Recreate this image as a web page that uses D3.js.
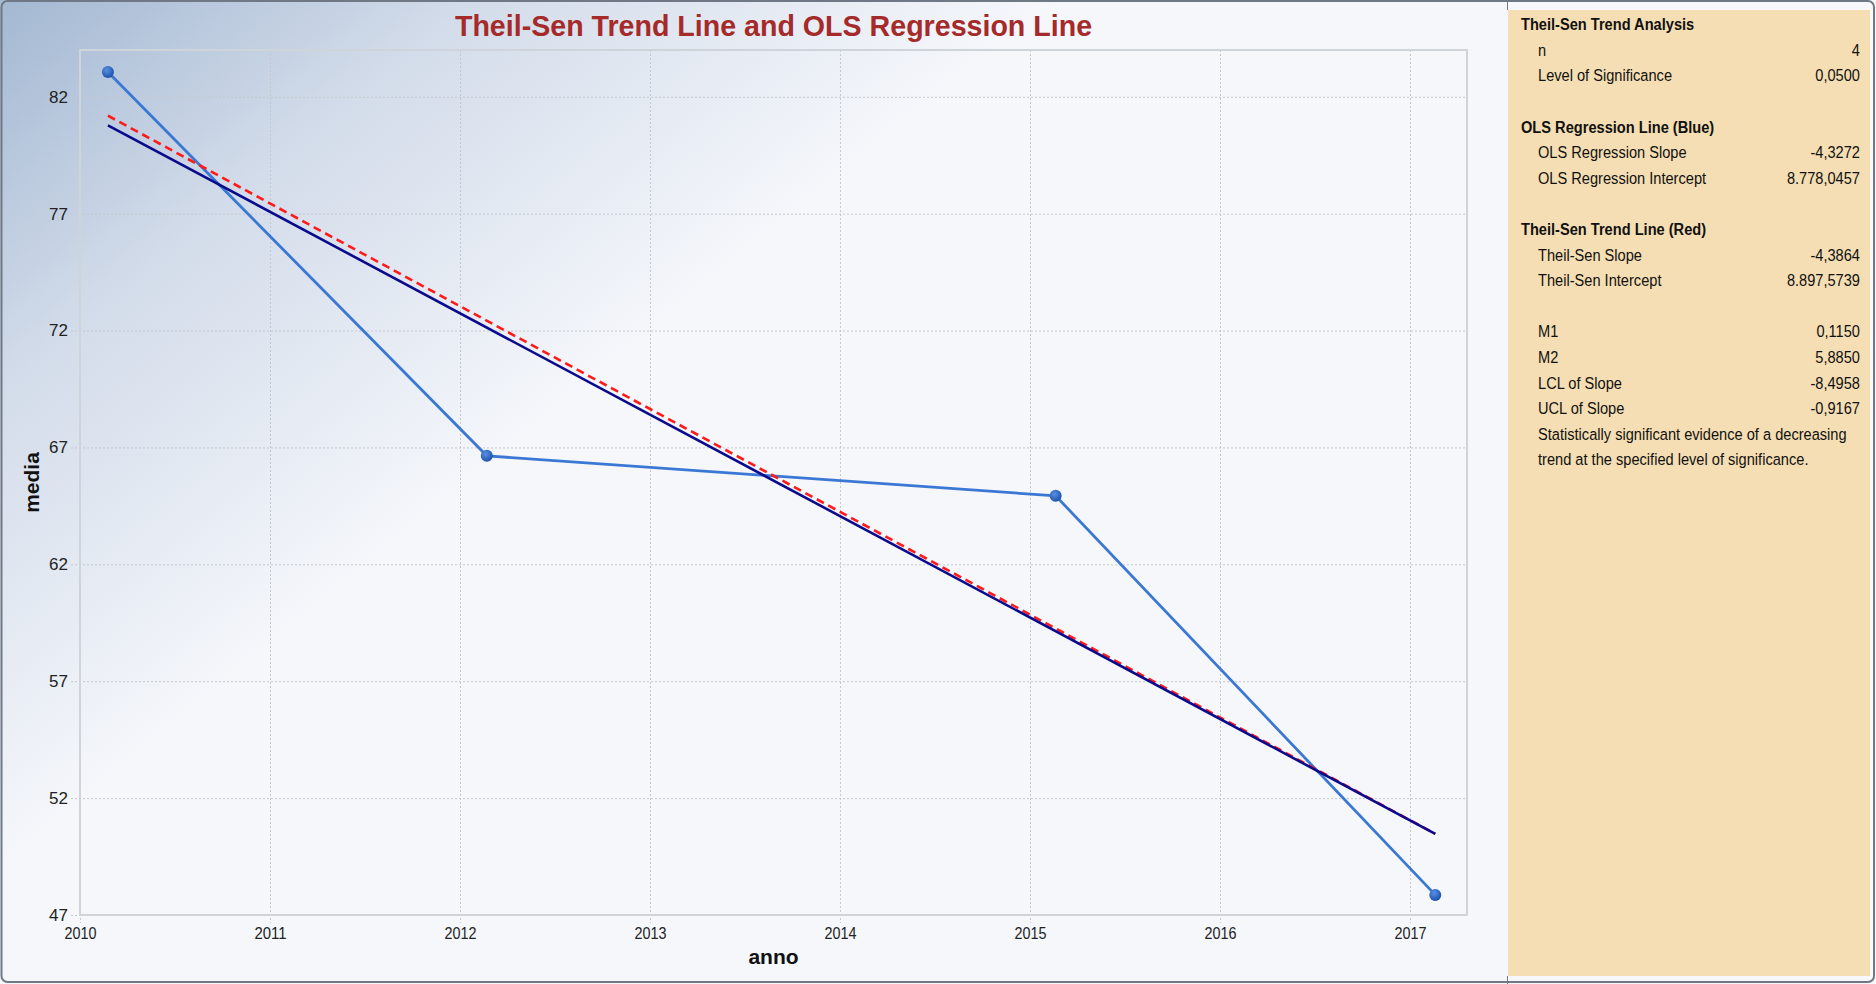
<!DOCTYPE html>
<html>
<head>
<meta charset="utf-8">
<script src="https://cdn.jsdelivr.net/npm/d3@7"></script>
<style>
  body { margin: 0; background: #f7f8fc; }
  svg { display: block; font-family: "Liberation Sans", Arial, sans-serif; }
</style>
</head>
<body>
<div id="chart"></div>
<script>
// data
const anno = [2010.147, 2012.141, 2015.135, 2017.133];
const media = [83.06, 66.64, 64.93, 47.86];
// trend lines, value at first and last anno
const olsEnds = [80.78, 50.47];
const theilEnds = [81.19, 50.47];

const xTicks = [2010, 2011, 2012, 2013, 2014, 2015, 2016, 2017];
const yTicks = [47, 52, 57, 62, 67, 72, 77, 82];

// side panel
const panelLabels = ["Theil-Sen Trend Analysis", "n", "Level of Significance", "",
  "OLS Regression Line (Blue)", "OLS Regression Slope", "OLS Regression Intercept", "",
  "Theil-Sen Trend Line (Red)", "Theil-Sen Slope", "Theil-Sen Intercept", "",
  "M1", "M2", "LCL of Slope", "UCL of Slope",
  "Statistically significant evidence of a decreasing",
  "trend at the specified level of significance."];
const panelValues = ["", "4", "0,0500", "",
  "", "-4,3272", "8.778,0457", "",
  "", "-4,3864", "8.897,5739", "",
  "0,1150", "5,8850", "-8,4958", "-0,9167", "", ""];
const panelHeaders = [0, 4, 8];

const width = 1876, height = 984;
const svg = d3.select("#chart").append("svg")
    .attr("width", width)
    .attr("height", height);

const defs = svg.append("defs");
const bg = defs.append("linearGradient")
    .attr("id", "bg")
    .attr("gradientUnits", "userSpaceOnUse")
    .attr("x1", 0).attr("y1", 0).attr("x2", 430).attr("y2", 520);
bg.append("stop").attr("offset", 0).attr("stop-color", "#a3b8d2");
bg.append("stop").attr("offset", 0.45).attr("stop-color", "#d3dcea");
bg.append("stop").attr("offset", 1).attr("stop-color", "#f5f7fb");

const dot = defs.append("radialGradient")
    .attr("id", "dot").attr("cx", 0.4).attr("cy", 0.35).attr("r", 0.65);
dot.append("stop").attr("offset", 0).attr("stop-color", "#5a90e2");
dot.append("stop").attr("offset", 1).attr("stop-color", "#1c52ad");

// backgrounds
svg.append("rect")
    .attr("x", 0).attr("y", 0).attr("width", 1507).attr("height", height)
    .attr("fill", "url(#bg)");
svg.append("rect")
    .attr("x", 1508).attr("y", 10).attr("width", 362).attr("height", 966)
    .attr("fill", "#f5deb3");
svg.append("rect")
    .attr("x", 1.5).attr("y", 1).attr("width", 1872.5).attr("height", 981)
    .attr("rx", 6)
    .attr("fill", "none")
    .attr("stroke", "#6f7884")
    .attr("stroke-width", 2);
svg.append("line")
    .attr("x1", 1507.5).attr("x2", 1507.5).attr("y1", 0).attr("y2", 10)
    .attr("stroke", "#6f7884");
svg.append("line")
    .attr("x1", 1507.5).attr("x2", 1507.5).attr("y1", 976).attr("y2", 984)
    .attr("stroke", "#6f7884");

const pLeft = 80, pRight = 1467, pTop = 50, pBottom = 915;

const x = d3.scaleLinear().domain([2010, 2017.3]).range([pLeft, pRight]);
const y = d3.scaleLinear().domain([47, 84]).range([pBottom, pTop]);

// grid
svg.append("g").selectAll("line")
    .data(yTicks)
    .join("line")
    .attr("x1", pLeft - 9).attr("x2", pRight)
    .attr("y1", d => y(d) + 0.5).attr("y2", d => y(d) + 0.5)
    .attr("stroke", "#c4c8ce")
    .attr("stroke-dasharray", "2,2");
svg.append("g").selectAll("line")
    .data(xTicks)
    .join("line")
    .attr("x1", d => x(d) + 0.5).attr("x2", d => x(d) + 0.5)
    .attr("y1", pTop).attr("y2", pBottom + 8)
    .attr("stroke", "#c4c8ce")
    .attr("stroke-dasharray", "2,2");

svg.append("rect")
    .attr("x", pLeft).attr("y", pTop)
    .attr("width", pRight - pLeft).attr("height", pBottom - pTop)
    .attr("fill", "none")
    .attr("stroke", "#cfd3da")
    .attr("stroke-width", 2);

// axes
const yAxis = svg.append("g")
    .attr("transform", `translate(${pLeft},0)`)
    .call(d3.axisLeft(y).tickValues(yTicks).tickSize(0).tickPadding(12).tickFormat(d3.format("d")));
const xAxis = svg.append("g")
    .attr("transform", `translate(0,${pBottom})`)
    .call(d3.axisBottom(x).tickValues(xTicks).tickSize(0).tickPadding(12).tickFormat(d3.format("d")));
[yAxis, xAxis].forEach(a => {
  a.select(".domain").remove();
  a.selectAll("text")
      .attr("font-size", 17)
      .attr("font-family", "Liberation Sans, Arial, sans-serif")
      .attr("fill", "#222");
});
xAxis.selectAll(".tick text")
    .attr("textLength", 32).attr("lengthAdjust", "spacingAndGlyphs");

// trend lines
const line = d3.line().x(d => x(d[0])).y(d => y(d[1]));
const ends = [anno[0], anno[anno.length - 1]];

svg.append("path")
    .attr("d", line(d3.zip(anno, media)))
    .attr("fill", "none")
    .attr("stroke", "#3a78d4")
    .attr("stroke-width", 2.8);

svg.append("path")
    .attr("d", line(d3.zip(ends, theilEnds)))
    .attr("fill", "none")
    .attr("stroke", "#ff1a1a")
    .attr("stroke-width", 2.6)
    .attr("stroke-dasharray", "8,5");

svg.append("path")
    .attr("d", line(d3.zip(ends, olsEnds)))
    .attr("fill", "none")
    .attr("stroke", "#0a0a8c")
    .attr("stroke-width", 2.6);

svg.append("g").selectAll("circle")
    .data(d3.zip(anno, media))
    .join("circle")
    .attr("cx", d => x(d[0]))
    .attr("cy", d => y(d[1]))
    .attr("r", 6)
    .attr("fill", "url(#dot)");

// titles
svg.append("text")
    .attr("x", (pLeft + pRight) / 2).attr("y", 36)
    .attr("text-anchor", "middle")
    .attr("font-size", 28.6)
    .attr("font-weight", "bold")
    .attr("fill", "#a52a2a")
    .text("Theil-Sen Trend Line and OLS Regression Line");

svg.append("text")
    .attr("x", (pLeft + pRight) / 2).attr("y", 964)
    .attr("text-anchor", "middle")
    .attr("font-size", 21)
    .attr("font-weight", "bold")
    .attr("fill", "#111")
    .text("anno");

svg.append("text")
    .attr("transform", `translate(39,${(pTop + pBottom) / 2}) rotate(-90)`)
    .attr("text-anchor", "middle")
    .attr("font-size", 21)
    .attr("font-weight", "bold")
    .attr("fill", "#111")
    .text("media");

// panel
const rowY = i => 24 + i * 25.6;
const rows = svg.append("g").selectAll("g")
    .data(panelLabels.map((t, i) => ({t, v: panelValues[i], i})))
    .join("g")
    .attr("transform", d => `translate(0,${rowY(d.i)})`);

rows.append("text")
    .attr("transform", d => `translate(${panelHeaders.includes(d.i) ? 1521 : 1538},0) scale(0.86,1)`)
    .attr("dy", "0.36em")
    .attr("font-size", 17)
    .attr("font-weight", d => panelHeaders.includes(d.i) ? "bold" : "normal")
    .attr("fill", "#111")
    .text(d => d.t);

rows.append("text")
    .attr("transform", "translate(1860,0) scale(0.86,1)")
    .attr("dy", "0.36em")
    .attr("text-anchor", "end")
    .attr("font-size", 17)
    .attr("fill", "#111")
    .text(d => d.v);
</script>
</body>
</html>
